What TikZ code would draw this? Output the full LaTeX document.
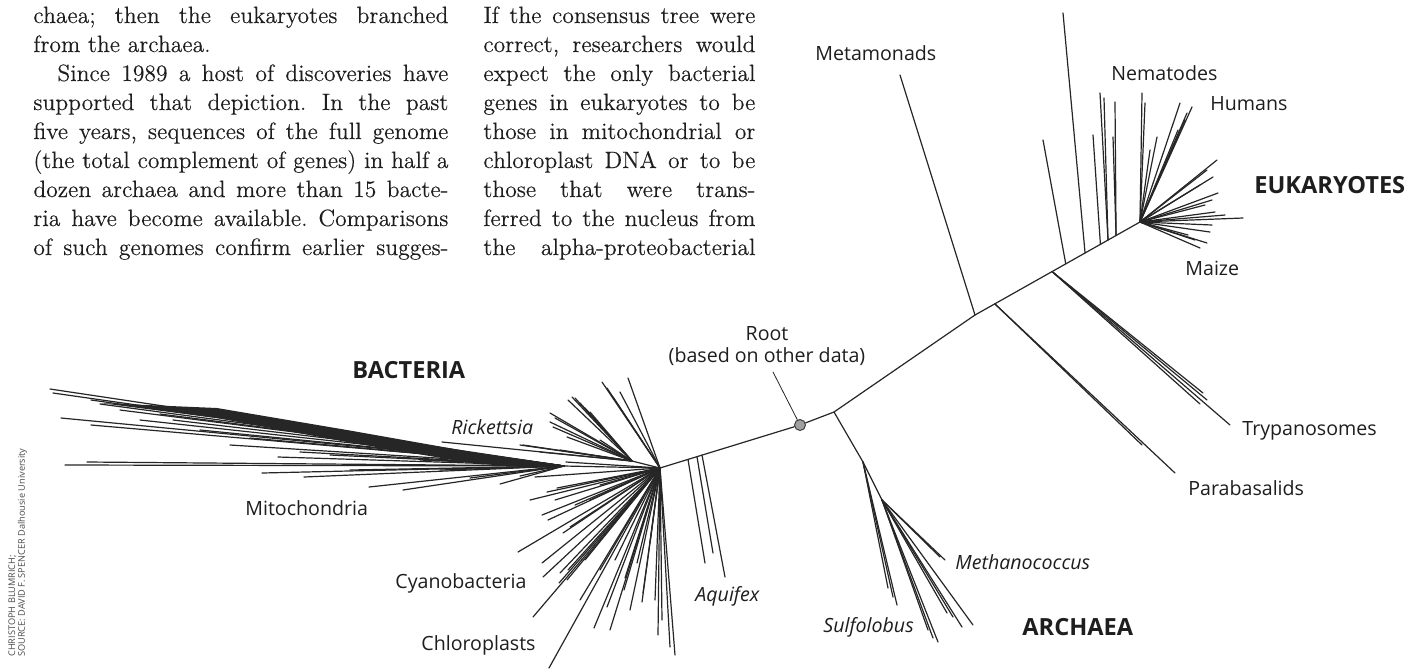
\documentclass[tikz,border=0pt]{standalone}
\usepackage{fontspec}
\newfontfamily\lblfont{Open Sans}
\newfontfamily\bodyfont{Latin Modern Roman}[FakeBold=0.25]
\usetikzlibrary{calc}
\definecolor{inkgray}{RGB}{30,30,30}
\definecolor{rootgray}{RGB}{160,160,160}

%% one justified line of each text column
\newcommand{\jlA}[1]{\hbox to 207.5pt{#1}}
\newcommand{\jlAend}[1]{\hbox to 207.5pt{#1\hfil}}
\newcommand{\jlB}[1]{\hbox to 136pt{#1}}
\newcommand{\bodysize}{\bodyfont\fontsize{11.8}{14.5}\selectfont\frenchspacing\baselineskip=14.5pt}

\begin{document}
\begin{tikzpicture}[x=0.5pt, y=-0.5pt,
  %% styles
  br/.style={line width=0.6pt, draw=black!85, line cap=round},
  lbl/.style={font=\lblfont\fontsize{9.8}{11}\selectfont, text=inkgray, inner sep=0pt},
  ilbl/.style={font=\lblfont\itshape\fontsize{9.8}{11}\selectfont, text=inkgray, inner sep=0pt},
  grp/.style={font=\lblfont\bfseries\fontsize{11.8}{13}\selectfont, text=inkgray, inner sep=0pt},
  body/.style={text=inkgray, inner sep=0pt, anchor=base west},
  credit/.style={font=\lblfont\fontsize{4.6}{4.9}\selectfont, text=black!70,
                 inner sep=0pt, align=left, rotate=90, anchor=north west},
  rootdot/.style={circle, draw=black!75, fill=rootgray, minimum size=5.5pt,
                  inner sep=0pt, line width=0.5pt},
]
\useasboundingbox[fill=white] (0,0) rectangle (1413,671);

%% ------ text columns ---------------------------------------------------
\node[body] (colA) at (33,23) {\vtop{\bodysize
  \jlA{chaea; then the eukaryotes branched}
  \jlAend{from the archaea.}
  \jlA{\hskip 12pt Since 1989 a host of discoveries have}
  \jlA{supported that depiction. In the past}
  \jlA{five years, sequences of the full genome}
  \jlA{(the total complement of genes) in half a}
  \jlA{dozen archaea and more than 15 bacte-}
  \jlA{ria have become available. Comparisons}
  \jlA{of such genomes confirm earlier sugges-}}};

\node[body] (colB) at (483,23) {\vtop{\bodysize
  \jlB{If the consensus tree were}
  \jlB{correct, researchers would}
  \jlB{expect the only bacterial}
  \jlB{genes in eukaryotes to be}
  \jlB{those in mitochondrial or}
  \jlB{chloroplast DNA or to be}
  \jlB{those that were trans-}
  \jlB{ferred to the nucleus from}
  \jlB{the alpha-proteobacterial}}};

%% ------ tree nodes -----------------------------------------------------
\coordinate (hub)   at (660,468);
\coordinate (mito)  at (564,466);
\coordinate (rick)  at (632,461);
\node[rootdot] (root) at (800,425) {};
\coordinate (arch)  at (834,412);
\coordinate (archS) at (863,462);
\coordinate (meth)  at (882,500);
\coordinate (jmeta) at (975,315);
\coordinate (crown) at (1140,222);
\coordinate (jpara) at ($(jmeta)!0.12!(crown)$);
\coordinate (jtryp) at ($(jmeta)!0.467!(crown)$);

%% backbone
\draw[br] (hub) -- (root) -- (arch) -- (jmeta) -- (crown);

%% Bacteria: mitochondria wedge
\fill[black!85] (100,403) -- (217,408) -- (347,430) -- (477,453) -- (555,464)
  -- (555,468) -- (477,464) -- (347,442) -- (217,418) -- cycle;
\foreach \x/\y in {50/389,53/393,91/400,100/404,120/410,61/418,91/425,140/420,
    173/420,200/430,230/445,278/457,65/465,87/462,262/473,304/477,369/487,
    403/490,330/455,380/450,420/460,450/455,470/478,500/484,520/476,440/470,
    350/470,300/452,250/438,160/414}
  \draw[br] (mito) -- (\x,\y);
\draw[br] (mito) -- (hub);
\draw[br] (566,462) -- (hub);

%% Rickettsia group
\foreach \x/\y in {572/397,575/398,580/403,568/400,585/408,590/412,550/413,
    555/418,550/422,553/427,567/437,523/445,442/442,520/445,540/452,560/450,600/440}
  \draw[br] (rick) -- (\x,\y);
\draw[br] (rick) -- (hub);
\foreach \x/\y in {602/382,607/388,613/397,628/378,620/392}
  \draw[br] (hub) -- (\x,\y);

%% lower-left and downward fans (cyanobacteria, chloroplasts)
\foreach \x/\y in {535/477,547/492,557/488,542/515,548/520,518/552,563/533,
    570/527,555/500,575/505,590/500,600/485,530/500,
    533/617,549/668,559/583,568/570,542/563,543/577,560/573,567/580,594/628,
    607/607,624/590,637/563,650/543,642/602,625/578,658/635,675/655,670/647,
    643/593,580/600,585/560,600/570,610/630,615/560,630/610,655/600,662/620}
  \draw[br] (hub) -- (\x,\y);

%% Aquifex
\foreach \t/\x/\y in {0.2/705/563, 0.264/713/553, 0.3/725/577}
  \draw[br] ($(hub)!\t!(root)$) -- (\x,\y);

%% Archaea
\draw[br] (arch) -- (archS) -- (meth);
\foreach \x/\y in {897/605,893/597,888/588}
  \draw[br] (archS) -- (\x,\y);
\foreach \x/\y in {945/560,940/557,973/625,962/627,953/617,938/642,933/638,
    928/630,947/613}
  \draw[br] (meth) -- (\x,\y);

%% Eukaryotes
\draw[br] (jmeta) -- (900,75);
\draw[br] (jpara) -- (1175,473);
\draw[br] (jpara) -- (1142,445);
\foreach \x/\y in {1230/425,1207/400,1203/393,1200/404}
  \draw[br] (jtryp) -- (\x,\y);
\foreach \t/\x/\y in {0.55/1043/140, 0.667/1063/13, 0.76/1093/135, 0.806/1100/93,
    0.806/1104/98, 0.855/1115/102, 0.855/1113/137}
  \draw[br] ($(jmeta)!\t!(crown)$) -- (\x,\y);
\foreach \x/\y in {1142/93,1145/103,1157/137,1150/150,1180/103,1192/107,
    1187/113,1185/120,1178/130,1217/160,1213/177,1218/193,1207/170,1200/185,
    1212/200,1205/205,1243/218,1225/215,1215/212,1200/248,1207/243,1195/240,
    1188/235,1210/232,1212/225}
  \draw[br] (crown) -- (\x,\y);

%% root marker and its label
\node[lbl, align=center] (rootlbl) at (767,346) {Root\\(based on other data)};
\coordinate (lead) at (773,372);
\draw[br, line width=0.4pt] (lead) -- (root);

%% ------ labels ---------------------------------------------------------
\node[grp, anchor=west] (bact) at (352,370) {BACTERIA};
\node[grp, anchor=west] (euk)  at (1254,185) {EUKARYOTES};
\node[grp, anchor=west] (archl) at (1022,627) {ARCHAEA};

\node[lbl, anchor=west] (lmeta) at (815,53)  {Metamonads};
\node[lbl, anchor=west] (lnema) at (1111,73) {Nematodes};
\node[lbl, anchor=west] (lhum)  at (1210,104) {Humans};
\node[lbl, anchor=west] (lmaize) at (1185,268) {Maize};
\node[lbl, anchor=west] (ltryp) at (1242,431) {Trypanosomes};
\node[lbl, anchor=west] (lpara) at (1188,488) {Parabasalids};
\node[lbl, anchor=west] (lmito) at (245,508) {Mitochondria};
\node[lbl, anchor=west] (lcyan) at (395,583) {Cyanobacteria};
\node[lbl, anchor=west] (lchlo) at (421,645) {Chloroplasts};

\node[ilbl, anchor=west] (lrick) at (451,427) {Rickettsia};
\node[ilbl, anchor=west] (laqui) at (695,596) {Aquifex};
\node[ilbl, anchor=west] (lsulf) at (823,627) {Sulfolobus};
\node[ilbl, anchor=west] (lmeth) at (955,562) {Methanococcus};

%% credit line
\node[credit] (credit) at (8,657)
  {CHRISTOPH BLUMRICH;\\SOURCE: DAVID F. SPENCER Dalhousie University};

\end{tikzpicture}
\end{document}
